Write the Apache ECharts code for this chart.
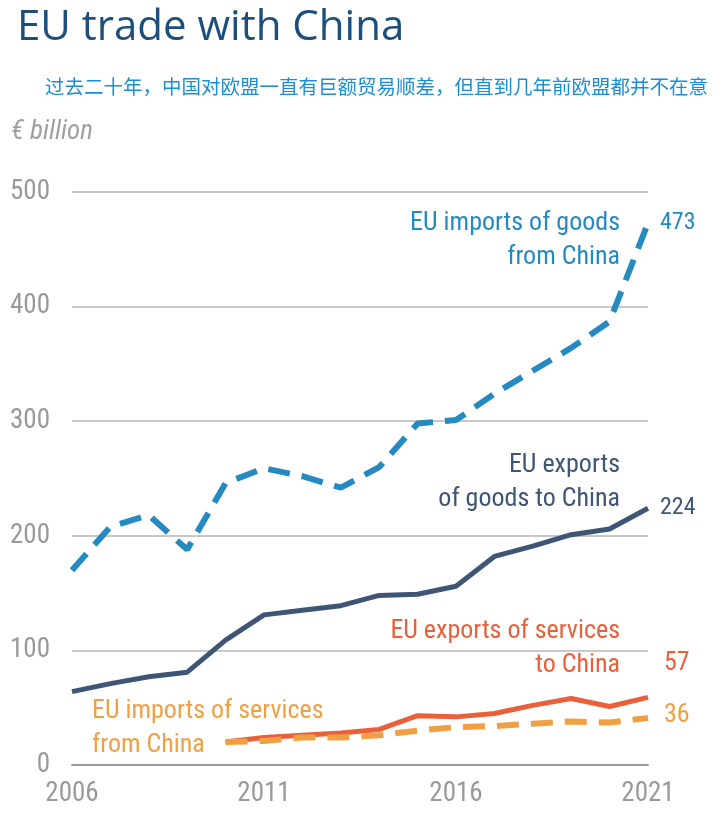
<!DOCTYPE html>
<html><head><meta charset="utf-8">
<script src="https://cdn.jsdelivr.net/npm/echarts@6/dist/echarts.min.js"></script>
<style>body{margin:0;background:#fff}#main{width:724px;height:835px}</style>
</head><body><div id="main"></div>
<script>
var years=['2006','2007','2008','2009','2010','2011','2012','2013','2014','2015','2016','2017','2018','2019','2020','2021'];
var importsGoods=[170,208,218,188,246,259,252,242,260,298,301,324,344,364,387,473];
var exportsGoods=[64,71,77,81,109,131,135,139,148,149,156,182,191,201,206,224];
var exportsServices=[null,null,null,null,20,24,26,28,31,43,42,45,52,58,51,59];
var importsServices=[null,null,null,null,20,21,24,24,26,30,33,34,36,38,37,41];
var yTicks=[0,100,200,300,400,500];

var font='"Liberation Sans Narrow","Roboto Condensed","Noto Sans",sans-serif';
var myChart=echarts.init(document.getElementById('main'));
function line(name,data,color,dashed,endVal){
  return {name:name,type:'line',data:data,symbol:'none',
    lineStyle:{color:color,width:dashed?6:5,type:dashed?[22,12]:'solid',cap:'butt'},
    endLabel:{show:endVal!==null,formatter:String(endVal),color:color,fontSize:24,fontFamily:font,distance:12}};
}
function txt(x,y,s,color,align){
  return {type:'text',x:x,y:y,style:{text:s,fill:color,font:'26px '+font,textAlign:align,lineHeight:34}};
}
var option={
  backgroundColor:'#fff',
  animation:false,
  title:[{text:'EU trade with China',left:12,top:2,textStyle:{color:'#1d4f7c',fontSize:42,fontWeight:'normal',fontFamily:'"Open Sans",sans-serif'}},
    {text:'过去二十年，中国对欧盟一直有巨额贸易顺差，但直到几年前欧盟都并不在意',left:40,top:72,textStyle:{color:'#1a8fd6',fontSize:19.5,fontWeight:'normal',fontFamily:'"Noto Sans CJK SC",sans-serif'}},
    {text:'€ billion',left:6,top:114,textStyle:{color:'#a0a0a0',fontSize:27,fontStyle:'italic',fontWeight:'normal',fontFamily:font}}],
  grid:{left:72,right:76,top:192,bottom:70},
  xAxis:{type:'category',data:years,boundaryGap:false,
    axisLine:{show:true,lineStyle:{color:'#999',width:2}},axisTick:{show:false},
    axisLabel:{color:'#999',fontSize:27,fontFamily:font,margin:16,
      formatter:function(v){return (v==='2006'||v==='2011'||v==='2016'||v==='2021')?v:'';},interval:0}},
  yAxis:{type:'value',min:0,max:500,interval:100,
    axisLine:{show:false},axisTick:{show:false},
    splitLine:{lineStyle:{color:'#c8c8c8',width:2}},
    axisLabel:{color:'#999',fontSize:27,fontFamily:font,margin:22,
      formatter:function(v){return yTicks.indexOf(v)>=0?v:'';}}},
  series:[
    line('EU imports of goods from China',importsGoods,'#2589c2',true,473),
    line('EU exports of goods to China',exportsGoods,'#3f5575',false,224),
    line('EU exports of services to China',exportsServices,'#e9603a',false,null),
    line('EU imports of services from China',importsServices,'#f0a042',true,null)
  ],
  graphic:[
    txt(620,206,'EU imports of goods\nfrom China','#2589c2','right'),
    txt(620,448,'EU exports\nof goods to China','#3f5575','right'),
    txt(620,614,'EU exports of services\nto China','#e9603a','right'),
    txt(92,694,'EU imports of services\nfrom China','#f0a042','left'),
    {type:'text',x:664,y:650,style:{text:'57',fill:'#e9603a',font:'26px '+font}},
    {type:'text',x:664,y:702,style:{text:'36',fill:'#f0a042',font:'26px '+font}}
  ]
};
myChart.setOption(option);
</script></body></html>
